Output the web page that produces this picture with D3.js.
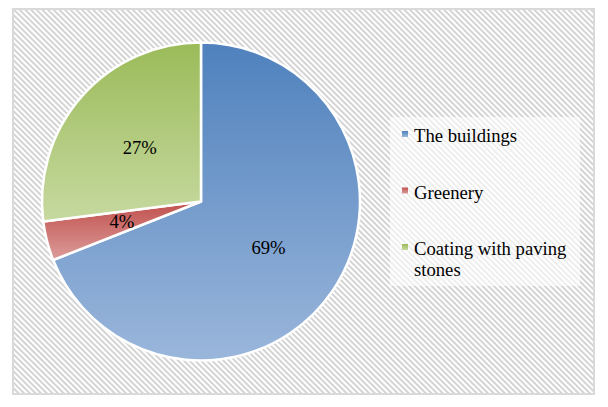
<!DOCTYPE html>
<html>
<head>
<meta charset="utf-8">
<script src="https://cdn.jsdelivr.net/npm/d3@7"></script>
<style>
	body { margin: 0; background: #fff; }
	svg text { font-family: "Liberation Serif", "Times New Roman", serif; font-size: 18.67px; fill: #000; }
</style>
</head>
<body>
<div class="chart"></div>
<script>
// chart data
const categories = [ 'The buildings', 'Greenery', 'Coating with paving stones' ];
const shares = [ 69, 4, 27 ];
const labels = [ '69%', '4%', '27%' ];
// legend text split into lines
const legendLines = [ [ 'The buildings' ], [ 'Greenery' ], [ 'Coating with paving', 'stones' ] ];
const topColors = [ '#4f81bd', '#c0504d', '#9bbb59' ];
const bottomColors = [ '#9ab6db', '#dc9c9a', '#c6d9a0' ];

const width = 608;
const height = 407;
const cx = 201;
const cy = 201.5;
const radius = 160;

const svg = d3.select('.chart').append('svg').attr('width', width).attr('height', height);
const defs = svg.append('defs');

// diagonal hatch background
const hatch = defs
	.append('pattern')
	.attr('id', 'hatch')
	.attr('patternUnits', 'userSpaceOnUse')
	.attr('width', 4)
	.attr('height', 4)
	.attr('patternTransform', 'rotate(45)');
hatch.append('rect').attr('width', 4).attr('height', 4).attr('fill', '#fff');
hatch.append('rect').attr('width', 4).attr('height', 2).attr('fill', '#d4d4d4');

// one vertical gradient per slice
categories.forEach(function(c, i) {
	const g = defs.append('linearGradient').attr('id', 'grad' + i).attr('x1', 0).attr('y1', 0).attr('x2', 0).attr('y2', 1);
	g.append('stop').attr('offset', '0%').attr('stop-color', topColors[i]);
	g.append('stop').attr('offset', '100%').attr('stop-color', bottomColors[i]);
});

svg
	.append('rect')
	.attr('x', 13)
	.attr('y', 9)
	.attr('width', 581)
	.attr('height', 385)
	.attr('fill', 'url(#hatch)')
	.attr('stroke', '#d9d9d9')
	.attr('stroke-width', 2);

const pie = d3.pie().sort(null).value((d) => d);
const arcs = pie(shares);
const arc = d3.arc().innerRadius(0).outerRadius(radius - 1);
const labelArc = d3.arc().innerRadius(radius * 0.51).outerRadius(radius * 0.51);

const pieG = svg.append('g').attr('transform', 'translate(' + cx + ',' + cy + ')');

pieG
	.selectAll('path')
	.data(arcs)
	.enter()
	.append('path')
	.attr('d', arc)
	.attr('fill', (d, i) => 'url(#grad' + i + ')')
	.attr('stroke', '#fff')
	.attr('stroke-width', 2.5)
	.attr('stroke-linejoin', 'round');

pieG
	.selectAll('.label')
	.data(arcs)
	.enter()
	.append('text')
	.attr('class', 'label')
	.attr('transform', (d) => 'translate(' + labelArc.centroid(d) + ')')
	.attr('text-anchor', 'middle')
	.attr('dy', '0.35em')
	.text((d, i) => labels[i]);

// legend
svg
	.append('rect')
	.attr('x', 390)
	.attr('y', 117)
	.attr('width', 190)
	.attr('height', 169)
	.attr('fill', '#fff')
	.attr('opacity', 0.6);

const legendY = d3.scalePoint().domain(categories).range([ 142, 255 ]);

const items = svg
	.selectAll('.legend')
	.data(categories)
	.enter()
	.append('g')
	.attr('class', 'legend')
	.attr('transform', (d) => 'translate(402,' + legendY(d) + ')');

items
	.append('rect')
	.attr('x', 0)
	.attr('y', -11)
	.attr('width', 6)
	.attr('height', 6)
	.attr('fill', (d, i) => 'url(#grad' + i + ')');

items
	.append('text')
	.selectAll('tspan')
	.data((d, i) => legendLines[i])
	.enter()
	.append('tspan')
	.attr('x', 12)
	.attr('y', (d, j) => j * 21)
	.text((d) => d);
</script>
</body>
</html>
